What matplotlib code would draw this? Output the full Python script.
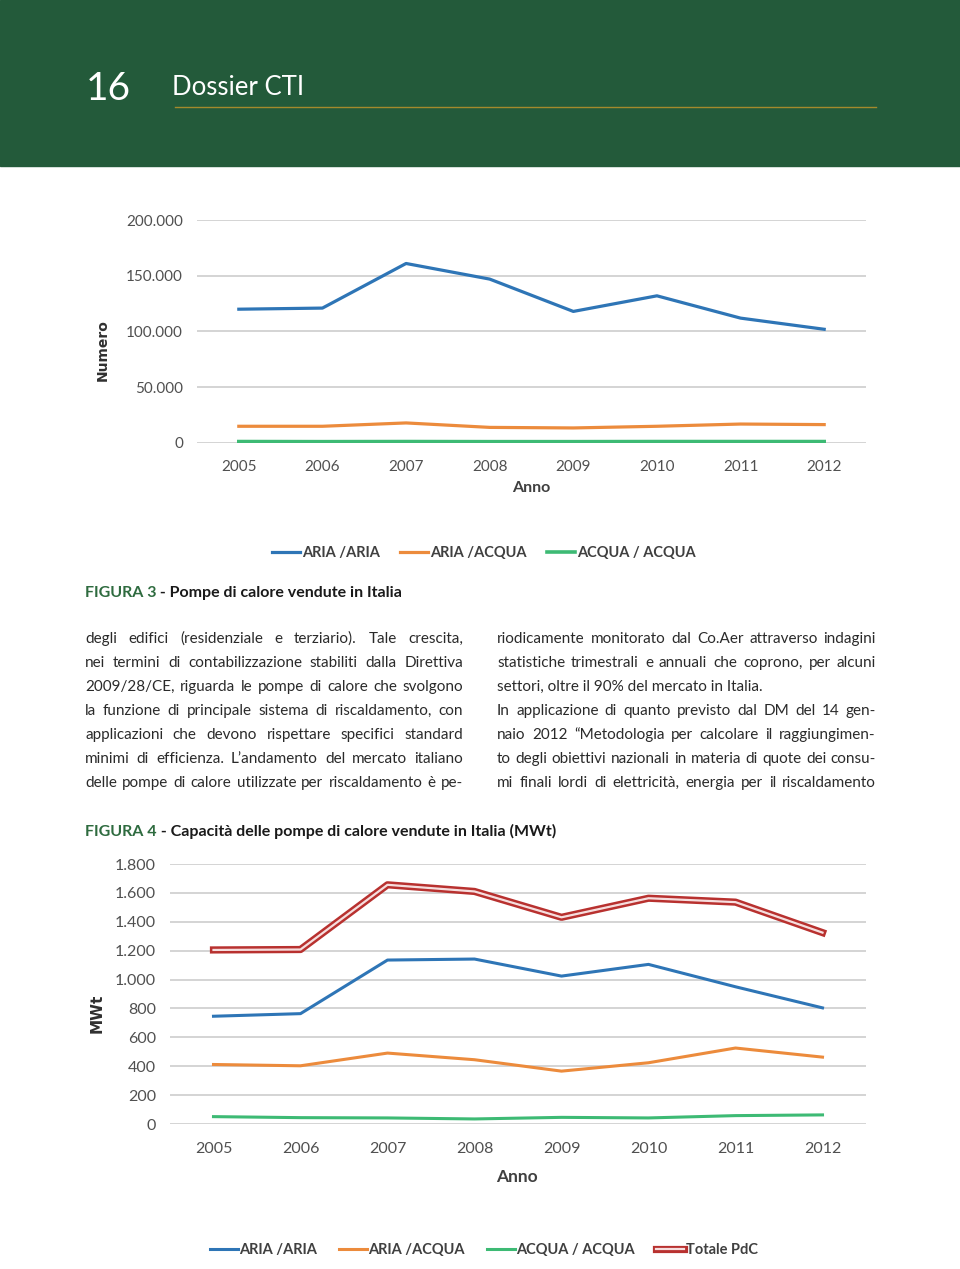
import matplotlib.pyplot as plt
import matplotlib.patheffects as pe
from matplotlib.patches import Rectangle
from matplotlib.lines import Line2D
from matplotlib.ticker import FuncFormatter

W, H = 960, 1269

# --- data ---
anni = [2005, 2006, 2007, 2008, 2009, 2010, 2011, 2012]

# Figura 3: numero di pompe di calore vendute
num_aria_aria = [120000, 121000, 161000, 147000, 118000, 132000, 112000, 102000]
num_aria_acqua = [15000, 15000, 18000, 14000, 13500, 15000, 17000, 16500]
num_acqua_acqua = [1300, 1200, 1300, 1200, 1200, 1300, 1300, 1300]

# Figura 4: capacita' (MWt)
mwt_aria_aria = [746, 764, 1135, 1142, 1024, 1105, 950, 804]
mwt_aria_acqua = [412, 403, 491, 445, 366, 424, 526, 463]
mwt_acqua_acqua = [51, 44, 42, 35, 46, 42, 58, 63]
mwt_totale = [1205, 1208, 1656, 1610, 1431, 1563, 1536, 1325]

serie_labels = ['ARIA /ARIA', 'ARIA /ACQUA', 'ACQUA / ACQUA']
totale_label = 'Totale PdC'

testo_sx = [
    "degli edifici (residenziale e terziario). Tale crescita,",
    "nei termini di contabilizzazione stabiliti dalla Direttiva",
    "2009/28/CE, riguarda le pompe di calore che svolgono",
    "la funzione di principale sistema di riscaldamento, con",
    "applicazioni che devono rispettare specifici standard",
    "minimi di efficienza. L\u2019andamento del mercato italiano",
    "delle pompe di calore utilizzate per riscaldamento \u00e8 pe-",
]
testo_dx = [
    "riodicamente monitorato dal Co.Aer attraverso indagini",
    "statistiche trimestrali e annuali che coprono, per alcuni",
    "settori, oltre il 90% del mercato in Italia.",
    "In applicazione di quanto previsto dal DM del 14 gen-",
    "naio 2012 \u201cMetodologia per calcolare il raggiungimen-",
    "to degli obiettivi nazionali in materia di quote dei consu-",
    "mi finali lordi di elettricit\u00e0, energia per il riscaldamento",
]

BLU = '#2e75b6'
ARANCIO = '#ec8b3c'
VERDE = '#3dba74'
ROSSO = '#b8312f'
VERDE_SCURO = '#235a3a'

CHART_FONT = ['Lato', 'DejaVu Sans']
PAGE_FONT = ['Lato', 'DejaVu Sans']


def px(x, y):
    return x / W, 1 - y / H


def it_fmt(v, pos):
    return '{:,.0f}'.format(v).replace(',', '.')


def style_axes(ax, ymax, step, size, pad_x, pad_y):
    ax.set_xlim(2004.5, 2012.5)
    ax.set_ylim(0, ymax)
    ax.set_xticks(anni)
    ax.set_yticks(range(0, ymax + 1, step))
    ax.yaxis.set_major_formatter(FuncFormatter(it_fmt))
    ax.grid(axis='y', color='#d4d4d4', lw=1.4)
    ax.set_axisbelow(True)
    for s in ax.spines.values():
        s.set_visible(False)
    ax.tick_params(length=0, labelsize=size, labelcolor='#505050')
    ax.tick_params(axis='x', pad=pad_x)
    ax.tick_params(axis='y', pad=pad_y)
    for lab in ax.get_xticklabels() + ax.get_yticklabels():
        lab.set_family(CHART_FONT)


fig = plt.figure(figsize=(W / 100, H / 100), dpi=100)
renderer = fig.canvas.get_renderer()

# header band
fig.patches.append(Rectangle(px(0, 166), 1, 166 / H, transform=fig.transFigure,
                             color=VERDE_SCURO, zorder=0))
fig.add_artist(Line2D([175 / W, 876 / W], [1 - 107 / H] * 2, color='#a48a2c', lw=1))
fig.text(*px(86, 100), '16', color='white', fontsize=28, family=PAGE_FONT,
         va='baseline')
fig.text(*px(172, 95), 'Dossier CTI', color='white', fontsize=18.5, family=PAGE_FONT,
         va='baseline')

# --- Figura 3 ---
ax1 = fig.add_axes([197 / W, 1 - 443 / H, 669 / W, 223 / H])
ax1.plot(anni, num_aria_aria, color=BLU, lw=2.3, label=serie_labels[0])
ax1.plot(anni, num_aria_acqua, color=ARANCIO, lw=2.3, label=serie_labels[1])
ax1.plot(anni, num_acqua_acqua, color=VERDE, lw=2.6, label=serie_labels[2])
style_axes(ax1, 200000, 50000, 11, 12, 10)
fig.text(*px(103, 350), 'Numero', rotation=90, ha='center', va='center',
         fontsize=10, weight='bold', family=['DejaVu Sans'], color='#303030')
fig.text(*px(531, 488), 'Anno', ha='center', va='center', fontsize=11.5,
         weight='bold', family=CHART_FONT, color='#404040')
h1, l1 = ax1.get_legend_handles_labels()
fig.legend(h1, l1, loc='center', bbox_to_anchor=px(484, 553), ncol=3,
           frameon=False, handlelength=1.9, handletextpad=0.15, columnspacing=1.4,
           prop={'family': CHART_FONT, 'weight': 'bold', 'size': 10.5},
           labelcolor='#404040')


def caption(y, num, rest):
    t1 = fig.text(*px(85, y), num, color='#2e6b3f', fontsize=11.5, weight='bold',
                  family=PAGE_FONT, va='baseline')
    w = t1.get_window_extent(renderer).width
    fig.text(*px(85 + w, y), rest, color='#1a1a1a', fontsize=11.5, weight='bold',
             family=PAGE_FONT, va='baseline')


caption(597, 'FIGURA 3', ' - Pompe di calore vendute in Italia')
caption(836, 'FIGURA 4', ' - Capacit\u00e0 delle pompe di calore vendute in Italia (MWt)')

# body text, justified; size chosen so the densest line nearly fills the column
body = dict(family=PAGE_FONT, color='#2a2a2a', va='baseline', ha='left')
probe = fig.text(0, 0, '', fontsize=11, **body)
widest = 0
for line in testo_sx + testo_dx:
    probe.set_text(line)
    widest = max(widest, probe.get_window_extent(renderer).width)
probe.remove()
body['fontsize'] = 11 * 372 / widest


def justify(lines, x0, x1, y0, free=()):
    for i, line in enumerate(lines):
        y = y0 + 24 * i
        if i in free:
            fig.text(*px(x0, y), line, **body)
            continue
        words = line.split()
        texts = [fig.text(0, 0, w, **body) for w in words]
        widths = [t.get_window_extent(renderer).width for t in texts]
        gap = (x1 - x0 - sum(widths)) / (len(words) - 1)
        x = x0
        for t, w in zip(texts, widths):
            t.set_position(px(x, y))
            x += w + gap


justify(testo_sx, 85, 463, 643)
justify(testo_dx, 497, 876, 643, free=(2,))

# --- Figura 4 ---
ax2 = fig.add_axes([170 / W, 1 - 1124 / H, 696 / W, 260 / H])
ax2.plot(anni, mwt_aria_aria, color=BLU, lw=2.2, label=serie_labels[0])
ax2.plot(anni, mwt_aria_acqua, color=ARANCIO, lw=2.2, label=serie_labels[1])
ax2.plot(anni, mwt_acqua_acqua, color=VERDE, lw=2.2, label=serie_labels[2])
ax2.plot(anni, mwt_totale, color='#f6dede', lw=1.6, label=totale_label,
         path_effects=[pe.Stroke(linewidth=5.2, foreground=ROSSO), pe.Normal()])
style_axes(ax2, 1800, 200, 11.5, 13, 10)
fig.text(*px(97, 1013), 'MWt', rotation=90, ha='center', va='center',
         fontsize=11, weight='bold', family=['DejaVu Sans'], color='#303030')
fig.text(*px(517, 1177), 'Anno', ha='center', va='center', fontsize=12.5,
         weight='bold', family=CHART_FONT, color='#404040')
h2, l2 = ax2.get_legend_handles_labels()
fig.legend(h2, l2, loc='center', bbox_to_anchor=px(484, 1250), ncol=4,
           frameon=False, handlelength=1.9, handletextpad=0.1, columnspacing=1.5,
           prop={'family': CHART_FONT, 'weight': 'bold', 'size': 10.5},
           labelcolor='#404040')

fig.savefig('out.png', dpi=100)
